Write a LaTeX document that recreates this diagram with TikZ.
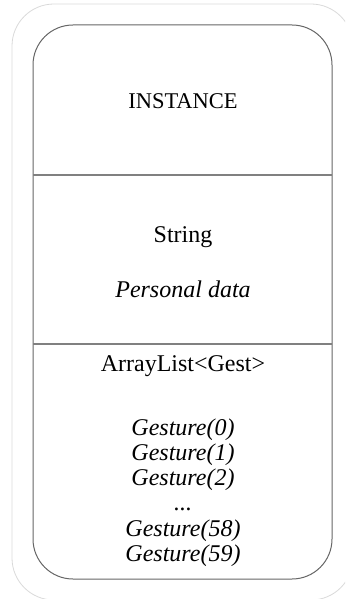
\documentclass[tikz,border=0pt]{standalone}
\usepackage{fontspec}
\setmainfont{Liberation Serif}
\begin{document}
\begin{tikzpicture}[x=1pt,y=-1pt,
  outerbox/.style={draw=black!15,line width=0.8pt,rounded corners=42pt},
  innerbox/.style={draw=black!60,line width=1pt,rounded corners=40pt},
  divider/.style={draw=black!50,line width=1.2pt},
  lbl/.style={font=\fontsize{24}{28}\selectfont,inner sep=0pt,anchor=base},
  ilbl/.style={lbl,font=\fontsize{24}{28}\selectfont\itshape}]
\useasboundingbox (0,0) rectangle (345,599);
\clip (0,0) rectangle (345,599);
\draw[outerbox] (12,4) rectangle (353,600);
\draw[innerbox] (33,25) rectangle (332,579);
\coordinate (d1l) at (33,175); \coordinate (d1r) at (332,175);
\coordinate (d2l) at (33,344); \coordinate (d2r) at (332,344);
\draw[divider] (d1l) -- (d1r);
\draw[divider] (d2l) -- (d2r);
\node[lbl,font=\fontsize{22.5}{26}\selectfont] (inst) at (183,109) {INSTANCE};
\node[lbl] (str) at (183,242) {String};
\node[ilbl] (pd) at (183,297) {Personal data};
\node[lbl] (al) at (183,371) {ArrayList<Gest>};
\node[ilbl] (g0) at (183,435) {Gesture(0)};
\node[ilbl] (g1) at (183,460) {Gesture(1)};
\node[ilbl] (g2) at (183,485) {Gesture(2)};
\node[ilbl] (gd) at (183,510) {...};
\node[ilbl] (g58) at (183,536) {Gesture(58)};
\node[ilbl] (g59) at (183,561) {Gesture(59)};
\end{tikzpicture}
\end{document}
